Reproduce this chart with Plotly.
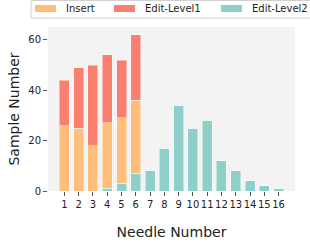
import plotly.graph_objects as go

needles = list(range(1, 17))
tick_labels = [str(n) for n in needles]
level2 = [0, 0, 0, 1, 3, 7, 8, 17, 34, 25, 28, 12, 8, 4, 2, 1]
insert = [26, 25, 18, 26, 26, 29, 0, 0, 0, 0, 0, 0, 0, 0, 0, 0]
level1 = [18, 24, 32, 27, 23, 26, 0, 0, 0, 0, 0, 0, 0, 0, 0, 0]

legend_names = ["Insert", "Edit-Level1", "Edit-Level2"]
legend_colors = ["#FFBE7A", "#FA7F6F", "#8ECFC9"]

FONT = "DejaVu Sans"
W, H = 310, 244
ML, MR, MT, MB = 48, 15, 27, 53
PW, PH = W - ML - MR, H - MT - MB
edge = dict(color="rgba(255,255,255,0.45)", width=1)


def px(x):
    return (x - ML) / PW


def py(y):
    return (H - MB - y) / PH


fig = go.Figure()
fig.add_trace(go.Bar(x=needles, y=level2, name="Edit-Level2", width=0.7,
                     marker=dict(color="#8ECFC9", line=edge)))
fig.add_trace(go.Bar(x=needles, y=insert, name="Insert", width=0.7,
                     marker=dict(color="#FFBE7A", line=edge)))
fig.add_trace(go.Bar(x=needles, y=level1, name="Edit-Level1", width=0.7,
                     marker=dict(color="#FA7F6F", line=edge)))

shapes = [dict(type="rect", xref="paper", yref="paper",
               x0=px(31), x1=px(330), y0=py(18), y1=py(0.5),
               line=dict(color="#d0d0d0", width=1), fillcolor="white", layer="above")]
annotations = []
patch_x = [35, 114, 221]
for name, color, x0 in zip(legend_names, legend_colors, patch_x):
    shapes.append(dict(type="rect", xref="paper", yref="paper",
                       x0=px(x0), x1=px(x0 + 21), y0=py(12), y1=py(5),
                       line=dict(width=0), fillcolor=color, layer="above"))
    annotations.append(dict(text=name, xref="paper", yref="paper",
                            x=px(x0 + 29), y=py(9), xanchor="left", yanchor="middle",
                            showarrow=False, font=dict(size=10, family=FONT, color="#222")))

fig.update_layout(
    width=W, height=H,
    barmode="stack",
    showlegend=False,
    hovermode=False,
    margin=dict(l=ML, r=MR, t=MT, b=MB, autoexpand=False),
    paper_bgcolor="white",
    plot_bgcolor="#f3f3f3",
    font=dict(family=FONT, size=10, color="#222"),
    shapes=shapes,
    annotations=annotations,
    xaxis=dict(range=[-0.15, 17.15], tickmode="array", tickvals=needles,
               ticktext=tick_labels, tickangle=0, ticks="outside", ticklen=4,
               tickcolor="#555", showgrid=False, zeroline=False, showline=False,
               automargin=False, ticklabelstandoff=0,
               title=dict(text="Needle Number", font=dict(size=14, family=FONT), standoff=18),
               tickfont=dict(size=10)),
    yaxis=dict(range=[0, 65.1], tickvals=[0, 20, 40, 60], ticks="outside", ticklen=4,
               tickcolor="#555", showgrid=False, zeroline=False, showline=False,
               automargin=False,
               title=dict(text="Sample Number", font=dict(size=14, family=FONT), standoff=5),
               tickfont=dict(size=10)),
)

fig.write_html("out.html", config={"displayModeBar": False},
               post_script="document.body.style.margin='0';document.body.style.padding='0';")
